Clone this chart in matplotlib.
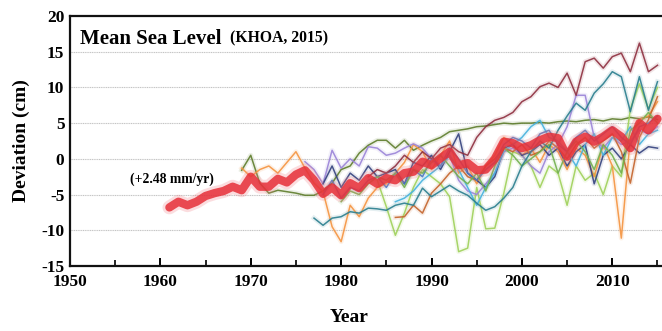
import matplotlib
matplotlib.use("Agg")
import matplotlib.pyplot as plt
from matplotlib.ticker import MultipleLocator

plt.rcParams['font.family'] = ['Liberation Serif', 'DejaVu Serif']
plt.rcParams['font.weight'] = 'bold'
plt.rcParams['axes.unicode_minus'] = False

# ---- data ----
mean_years = list(range(1961, 2016))
mean_vals = [-6.8, -6.0, -6.5, -6.0, -5.2, -4.8, -4.5, -3.9, -4.4, -2.5,
             -3.9, -3.9, -2.8, -3.3, -2.2, -1.6, -3.0, -4.9, -4.0, -5.1,
             -3.4, -4.1, -2.7, -3.5, -2.7, -3.0, -2.0, -1.8, -0.4, -0.9,
             0.1, 1.0, -0.9, -0.6, -1.6, -1.5, 0.0, 2.4, 2.2, 1.5,
             1.9, 2.6, 3.1, 2.9, 0.3, 2.4, 3.1, 2.4, 3.1, 4.0,
             3.1, 1.5, 5.0, 4.0, 5.6]

maroon_years = list(range(1983, 2016))
maroon_vals = [-2.5, -1.5, -2.0, -1.0, 0.5, -0.5, 1.0, 0.0, 1.5, 2.0,
               1.0, 0.5, 3.0, 4.5, 5.4, 5.8, 6.5, 8.0, 8.7, 10.1,
               10.6, 10.0, 12.0, 8.9, 13.6, 14.1, 12.7, 14.3, 14.8, 12.2,
               16.2, 12.2, 13.1]

olive_years = list(range(1969, 2016))
olive_vals = [-1.6, 0.5, -3.4, -4.8, -4.4, -4.6, -4.8, -5.1, -5.1, -4.5,
              -3.4, -1.5, -1.0, 0.8, 1.9, 2.6, 2.6, 1.5, 2.6, 1.2,
              1.9, 2.5, 3.0, 3.8, 4.0, 4.2, 4.5, 4.6, 4.8, 5.0,
              4.9, 5.0, 5.0, 5.1, 5.0, 5.2, 5.3, 5.2, 5.4, 5.5,
              5.3, 5.6, 5.5, 5.8, 5.6, 5.9, 5.5]

teal_years = list(range(1977, 2016))
teal_vals = [-8.3, -9.3, -8.3, -8.1, -7.4, -7.6, -6.9, -7.0, -7.2, -6.5,
             -6.2, -6.5, -4.1, -5.3, -4.5, -3.7, -4.5, -5.1, -6.2, -7.2,
             -6.7, -5.5, -4.0, -1.0, 1.0, 2.5, 1.5, 4.0, 6.0, 7.8,
             6.8, 9.2, 10.5, 12.2, 11.5, 6.6, 11.5, 6.8, 10.8]

lgreen_years = list(range(1984, 2016))
lgreen_vals = [-3.0, -6.7, -10.7, -7.6, -4.0, -1.5, -2.5, -3.5, -5.3, -13.0,
               -12.5, -4.0, -9.8, -9.7, -4.8, 1.0, 0.5, -1.0, -4.0, -1.0,
               -2.0, -6.5, -1.0, -3.0, -2.0, -5.0, -1.0, -2.5, 7.0, 10.5,
               7.0, 10.0]

orange_years = list(range(1969, 2016))
orange_vals = [-1.3, -2.5, -1.5, -1.0, -2.0, -0.5, 1.0, -1.3, -3.4, -4.6,
               -9.5, -11.6, -6.5, -8.1, -5.5, -4.0, -3.5, -2.0, -0.5, 2.0,
               1.0, -1.5, 0.5, 2.5, -2.0, -1.0, -3.5, -1.0, 0.5, 3.0,
               2.0, 0.5, 1.5, -0.5, 2.0, 1.0, -1.5, 1.5, 0.5, -2.5,
               2.0, -1.0, -11.1, 3.0, 5.5, 6.0, 8.0]

purple_years = list(range(1976, 2016))
purple_vals = [-0.4, -1.5, -3.5, 1.2, -1.3, 0.0, -1.0, 1.7, 1.5, 0.5,
               0.8, 1.5, 2.1, 1.5, 0.0, -1.0, 0.5, -3.0, -4.5, -5.0,
               -3.5, -2.0, 1.0, 1.5, 0.5, -1.0, -2.0, 1.0, 2.0, 4.5,
               8.9, 8.9, 3.0, 1.5, 3.0, 2.0, 2.5, 4.0, 3.5, 4.5]

navy_years = list(range(1978, 2016))
navy_vals = [-3.5, -1.0, -4.0, -2.0, -3.0, -1.0, -2.5, -2.0, -1.5, -3.5,
             -0.5, -1.0, 0.5, -1.5, 1.0, 3.5, -2.0, -3.0, -4.0, -2.5,
             1.5, 2.0, 0.5, 1.0, 2.0, 0.5, 1.5, -1.0, 1.0, 2.0,
             -3.5, 0.5, 1.5, 0.0, 2.0, 0.8, 1.7, 1.5]

sky_years = list(range(1986, 2016))
sky_vals = [-6.0, -5.5, -4.5, -3.0, -2.0, -1.0, 0.5, -1.5, -4.0, -6.5,
            -4.0, -2.0, 1.0, 2.0, 3.0, 4.5, 5.4, 3.0, 2.5, 1.0,
            -1.0, 2.0, 3.5, 0.5, 3.0, 2.5, 4.5, 2.0, 3.5, 4.0]

brown_years = list(range(1986, 2016))
brown_vals = [-8.2, -8.1, -6.5, -7.6, -4.8, -3.5, -2.0, -1.0, -2.5, -3.0,
              -1.0, 0.0, 1.5, 1.0, 2.0, 0.5, 1.0, 2.5, 1.5, 0.0,
              2.0, 3.0, 1.5, 2.5, 3.5, 1.0, -3.4, 3.0, 5.5, 8.7]

blue_years = list(range(1978, 2016))
blue_vals = [-5.0, -3.0, -5.5, -4.0, -4.5, -3.0, -2.5, -4.0, -2.0, -3.5,
             -1.5, -2.5, 0.0, -1.0, 1.5, 0.0, -2.0, -3.0, -1.5, -0.5,
             2.0, 3.0, 2.5, 1.5, 3.5, 4.0, 2.0, 1.0, 3.0, 4.0,
             2.5, 3.5, 4.5, 3.0, 2.0, 4.5, 5.0, 6.0]

green2_years = list(range(1980, 2016))
green2_vals = [-6.0, -4.5, -5.0, -3.5, -2.5, -3.0, -2.0, -4.0, -1.5, -2.0,
               -0.5, 0.5, -1.0, -2.5, -3.5, -2.0, -4.5, -1.0, 1.5, 0.5,
               -1.0, 0.0, 1.0, 2.0, -2.0, 1.0, 2.5, 1.0, -1.5, 2.0,
               0.5, -2.0, 4.0, 5.0, 6.5, 5.0]

stations = [
    (olive_years, olive_vals, '#5e7d2c'),
    (lgreen_years, lgreen_vals, '#9fd15a'),
    (orange_years, orange_vals, '#f59440'),
    (purple_years, purple_vals, '#9b84d8'),
    (navy_years, navy_vals, '#34427e'),
    (sky_years, sky_vals, '#45b2de'),
    (brown_years, brown_vals, '#c4642c'),
    (blue_years, blue_vals, '#4a78c4'),
    (green2_years, green2_vals, '#72b04e'),
    (teal_years, teal_vals, '#2a7e8e'),
    (maroon_years, maroon_vals, '#8e2f3f'),
]

fig = plt.figure(figsize=(6.62, 3.31), dpi=100)
ax = fig.add_axes([0.1057, 0.1964, 0.8943, 0.7553])

ax.set_xlim(1950, 2015.5)
ax.set_ylim(-15, 20)

for y in [15, 10, 5, 0, -5, -10]:
    ax.axhline(y, color='#c4c4c4', lw=0.8, ls=(0, (1, 0.6)), zorder=0)

for yrs, vals, col in stations:
    ax.plot(yrs, vals, color=col, lw=3.5, alpha=0.12, zorder=1, solid_joinstyle='round')
    ax.plot(yrs, vals, color=col, lw=1.1, alpha=0.9, zorder=2)

ax.plot(mean_years, mean_vals, color='#f07a80', lw=10, alpha=0.25, zorder=3, solid_joinstyle='round', solid_capstyle='round')
ax.plot(mean_years, mean_vals, color='#e62f38', lw=6, alpha=0.85, zorder=4, solid_joinstyle='round', solid_capstyle='round')

for s in ['top', 'left', 'bottom']:
    ax.spines[s].set_linewidth(1.6)
    ax.spines[s].set_color('#111111')
ax.spines['right'].set_visible(False)

ax.xaxis.set_major_locator(MultipleLocator(10))
ax.xaxis.set_minor_locator(MultipleLocator(5))
ax.yaxis.set_major_locator(MultipleLocator(5))
ax.tick_params(axis='x', which='major', direction='in', length=6, width=1.4, labelsize=12.5, pad=6)
ax.tick_params(axis='x', which='minor', direction='in', length=4, width=1.2)
ax.tick_params(axis='y', which='major', length=0, labelsize=12.5, pad=4)
ax.tick_params(top=False, right=False)
for lab in ax.get_xticklabels() + ax.get_yticklabels():
    lab.set_fontweight('bold')

ax.set_ylabel('Deviation (cm)', fontsize=14, fontweight='bold', labelpad=8)
fig.text(349 / 662, 1 - 318 / 331, 'Year', ha='center', va='center', fontsize=14, fontweight='bold')

ax.text(1951.1, 16.8, 'Mean Sea Level', fontsize=15, fontweight='bold', va='center', ha='left')
ax.text(1967.7, 16.8, '(KHOA, 2015)', fontsize=11.3, fontweight='bold', va='center', ha='left')
ax.text(1956.6, -2.8, '(+2.48 mm/yr)', fontsize=9.8, fontweight='bold', va='center', ha='left')

fig.savefig('out.png', dpi=100)
